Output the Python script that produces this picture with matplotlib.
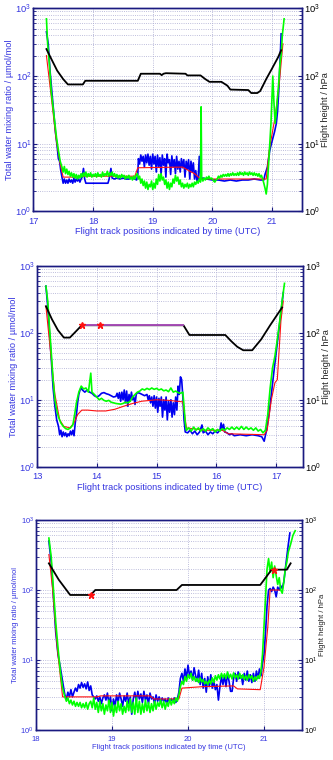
import numpy as np
import matplotlib
matplotlib.use("Agg")
from matplotlib import pyplot as plt
from matplotlib.ticker import LogLocator, NullFormatter

plt.rcParams['font.family'] = ['Liberation Sans', 'DejaVu Sans']
plt.rcParams['mathtext.default'] = 'regular'

# ---------------- panel 1 ----------------
p1_blue_t = [17.22, 17.25, 17.28, 17.31, 17.34, 17.37, 17.40, 17.42, 17.44, 17.46, 17.48, 17.50, 17.52, 17.54, 17.56, 17.58,
             17.60, 17.62, 17.64, 17.66, 17.68, 17.70, 17.72, 17.74, 17.76, 17.78, 17.80, 17.82, 17.84, 17.86, 17.88, 17.90,
             18.00, 18.10, 18.20, 18.25, 18.27, 18.30, 18.32, 18.36, 18.40, 18.45, 18.50, 18.55, 18.60, 18.65, 18.70, 18.73,
             18.75, 18.76, 18.78, 18.80, 18.82, 18.84, 18.86, 18.88, 18.90, 18.92, 18.94, 18.96, 18.98, 19.00, 19.02, 19.04,
             19.06, 19.08, 19.10, 19.12, 19.14, 19.16, 19.18, 19.20, 19.22, 19.24, 19.26, 19.28, 19.30, 19.32, 19.34, 19.36,
             19.38, 19.40, 19.42, 19.44, 19.46, 19.48, 19.50, 19.52, 19.54, 19.56, 19.58, 19.60, 19.62, 19.64, 19.66, 19.68,
             19.70, 19.72, 19.74, 19.76, 19.78, 19.80, 19.84, 19.90, 20.00, 20.10, 20.20, 20.30, 20.40, 20.50, 20.60, 20.70,
             20.80, 20.86, 20.88, 20.92, 20.96, 21.00, 21.04, 21.07, 21.09, 21.11, 21.13, 21.15]
p1_blue_v = [450, 300, 120, 60, 30, 15, 9, 6, 5.5, 4, 3.2, 2.6, 3.0, 2.6, 2.9, 2.6,
             3.0, 2.7, 2.9, 2.6, 3.1, 2.7, 3.0, 2.8, 3.0, 2.7, 3.0, 3.2, 4.3, 3.0, 2.6, 2.6,
             2.6, 2.6, 2.6, 2.6, 3.0, 4.3, 3.1, 3.0, 3.1, 3.0, 3.1, 3.0, 3.0, 3.1, 3.0, 2.9,
             3.5, 6, 5, 6.8, 5.5, 6.5, 4.5, 6.8, 5.2, 7, 4.8, 6.5, 4.2, 7, 5, 6.5,
             3.8, 6.8, 4.6, 6.2, 3.5, 6.8, 4.8, 6, 3.2, 7, 5.2, 5.8, 3.5, 6.6, 4.5, 5.8,
             3.6, 6.5, 4.2, 5.5, 3.8, 6, 4.4, 5.8, 3.2, 5.5, 4.2, 5.8, 3.0, 5.5, 3.8, 5.2,
             3.0, 4.0, 2.8, 3.0, 6.5, 3.0, 3.1, 3.0, 2.9, 2.9, 2.8, 2.9, 2.8, 2.9, 2.9, 3.0,
             2.9, 2.9, 3.5, 4.5, 8, 11, 15, 20, 30, 60, 150, 420]

p1_green_t = [17.22, 17.24, 17.27, 17.30, 17.33, 17.36, 17.39, 17.42, 17.45, 17.48, 17.50, 17.52, 17.54, 17.56, 17.58, 17.60,
              17.62, 17.64, 17.66, 17.68, 17.70, 17.72, 17.74, 17.76, 17.78, 17.80, 17.82, 17.84, 17.86, 17.88, 17.90, 17.92,
              17.94, 17.96, 17.98, 18.00, 18.02, 18.04, 18.06, 18.08, 18.10, 18.12, 18.14, 18.16, 18.18, 18.20, 18.22, 18.24,
              18.26, 18.28, 18.30, 18.32, 18.34, 18.36, 18.38, 18.40, 18.42, 18.44, 18.46, 18.48, 18.50, 18.52, 18.54, 18.56,
              18.58, 18.60, 18.62, 18.64, 18.66, 18.68, 18.70, 18.72, 18.74, 18.76, 18.78, 18.80, 18.82, 18.84, 18.86, 18.88,
              18.90, 18.92, 18.94, 18.96, 18.98, 19.00, 19.02, 19.04, 19.06, 19.08, 19.10, 19.12, 19.14, 19.16, 19.18, 19.20,
              19.22, 19.24, 19.26, 19.28, 19.30, 19.32, 19.34, 19.36, 19.38, 19.40, 19.42, 19.44, 19.46, 19.48, 19.50, 19.52,
              19.54, 19.56, 19.58, 19.60, 19.62, 19.64, 19.66, 19.68, 19.70, 19.72, 19.74, 19.76, 19.78, 19.80, 19.81, 19.82,
              19.84, 19.86, 19.88, 19.90, 19.92, 19.94, 19.96, 19.98, 20.00, 20.02, 20.04, 20.06, 20.08, 20.10, 20.12, 20.14,
              20.16, 20.18, 20.20, 20.22, 20.24, 20.26, 20.28, 20.30, 20.32, 20.34, 20.36, 20.38, 20.40, 20.42, 20.44, 20.46,
              20.48, 20.50, 20.52, 20.54, 20.56, 20.58, 20.60, 20.62, 20.64, 20.66, 20.68, 20.70, 20.72, 20.74, 20.76, 20.78,
              20.80, 20.82, 20.84, 20.86, 20.88, 20.90, 20.92, 20.94, 20.96, 20.98, 21.00, 21.01, 21.03, 21.05, 21.07, 21.09,
              21.11, 21.13, 21.15, 21.17, 21.20]
p1_green_v = [700, 300, 150, 60, 35, 20, 12, 8, 5.5, 4.5, 3.8, 4.6, 3.6, 4.2, 3.5, 3.9,
              3.3, 3.7, 3.2, 3.6, 3.1, 3.5, 3.0, 3.4, 3.1, 3.6, 3.2, 3.7, 3.3, 3.8, 3.2, 3.6,
              3.3, 3.7, 3.2, 3.5, 3.3, 3.6, 3.2, 3.7, 3.3, 3.5, 3.2, 3.8, 3.3, 3.6, 3.4, 3.9,
              3.3, 3.7, 3.4, 3.8, 3.3, 3.6, 3.2, 3.5, 3.1, 3.4, 3.1, 3.5, 3.2, 3.4, 3.0, 3.3,
              3.1, 3.4, 3.0, 3.2, 2.9, 3.3, 3.0, 3.4, 3.6, 3.0, 3.3, 2.6, 3.0, 2.4, 2.8, 2.2,
              2.7, 2.1, 2.5, 2.3, 2.8, 2.1, 2.6, 2.2, 3.0, 2.5, 3.5, 2.8, 3.6, 2.9, 3.2, 2.5,
              2.9, 2.2, 2.7, 2.1, 2.6, 2.3, 3.0, 2.6, 3.4, 2.8, 3.2, 2.5, 2.9, 2.3, 2.6, 2.2,
              2.5, 2.3, 2.6, 2.2, 2.5, 2.3, 2.6, 2.3, 2.7, 2.5, 2.8, 2.6, 3.0, 2.7, 35, 3.0,
              2.8, 3.1, 2.9, 3.2, 3.0, 3.3, 3.0, 3.1, 3.0, 2.8, 2.7, 2.9, 3.0, 3.3, 3.1, 3.4,
              3.2, 3.5, 3.3, 3.5, 3.3, 3.6, 3.3, 3.6, 3.4, 3.7, 3.4, 3.6, 3.4, 3.7, 3.4, 3.8,
              3.5, 3.7, 3.4, 3.8, 3.5, 3.7, 3.4, 3.8, 3.5, 3.7, 3.4, 3.7, 3.4, 3.6, 3.3, 3.6,
              3.2, 3.4, 3.0, 2.6, 2.2, 1.8, 2.5, 5, 10, 20, 60, 100, 40, 20, 30, 50,
              80, 150, 200, 400, 700]

p1_red_t = [17.22, 17.30, 17.38, 17.45, 17.50, 17.70, 17.75, 18.70, 18.75, 19.50, 19.60, 19.70, 19.80, 20.90, 20.95, 21.05, 21.12, 21.18]
p1_red_v = [200, 50, 12, 5, 3.2, 3.2, 3.3, 3.3, 4.4, 4.5, 4.0, 3.6, 3.0, 3.0, 8, 25, 80, 300]

p1_black_t = [17.22, 17.30, 17.40, 17.50, 17.58, 17.83, 17.87, 18.75, 18.80, 19.12, 19.15, 19.18, 19.22, 19.55, 19.58, 19.80,
              19.88, 19.95, 20.15, 20.25, 20.30, 20.60, 20.65, 20.75, 20.80, 20.90, 21.00, 21.10, 21.15]
p1_black_v = [250, 180, 120, 90, 75, 75, 85, 85, 108, 108, 103, 108, 110, 108, 102, 102,
              90, 82, 82, 72, 63, 62, 56, 56, 60, 90, 130, 190, 240]

# ---------------- panel 2 ----------------
p2_blue_t = [13.15, 13.18, 13.21, 13.24, 13.27, 13.30, 13.33, 13.36, 13.38, 13.40, 13.42, 13.44, 13.46, 13.48, 13.50, 13.52,
             13.54, 13.56, 13.58, 13.60, 13.62, 13.64, 13.66, 13.68, 13.70, 13.72, 13.74, 13.76, 13.80, 13.84, 13.88, 13.92,
             13.96, 14.00, 14.04, 14.08, 14.12, 14.16, 14.20, 14.24, 14.28, 14.32, 14.34, 14.36, 14.38, 14.40, 14.42, 14.44,
             14.46, 14.48, 14.50, 14.52, 14.54, 14.56, 14.58, 14.60, 14.62, 14.64, 14.66, 14.68, 14.72, 14.76, 14.80, 14.84,
             14.86, 14.88, 14.90, 14.92, 14.94, 14.96, 14.98, 15.00, 15.02, 15.04, 15.06, 15.08, 15.10, 15.12, 15.14, 15.16,
             15.18, 15.20, 15.22, 15.24, 15.26, 15.28, 15.30, 15.32, 15.34, 15.36, 15.38, 15.40, 15.42, 15.44, 15.46, 15.48,
             15.52, 15.56, 15.60, 15.64, 15.68, 15.72, 15.76, 15.78, 15.82, 15.86, 15.90, 15.94, 15.98, 16.02, 16.06, 16.08,
             16.10, 16.12, 16.14, 16.18, 16.22, 16.26, 16.30, 16.40, 16.50, 16.60, 16.70, 16.76, 16.80, 16.84, 16.88, 16.92,
             16.96, 17.00, 17.04, 17.08, 17.12]
p2_blue_v = [500, 250, 100, 40, 15, 8, 5, 4, 3.0, 3.5, 2.8, 3.3, 2.9, 3.2, 2.8, 3.1,
             2.9, 3.4, 3.0, 3.5, 2.9, 4.5, 6, 9, 12, 14, 15, 14, 13, 14, 13, 12.5,
             11.5, 11, 11.5, 12.5, 12.8, 12.3, 12, 11.5, 11, 11.2, 12.5, 10.5, 12.8, 9.5, 13, 10,
             14, 9, 13.5, 8, 12, 9.5, 13, 10, 11, 8.5, 12, 12.8, 12.5, 12, 11.5, 12,
             10, 11.5, 9, 11, 8, 11.5, 7.5, 11, 6.5, 10.5, 8, 11, 5.5, 10, 7, 11,
             5, 9.5, 6.5, 10, 5.5, 9, 6, 11, 7, 16, 12, 22, 20, 11, 5, 3.3,
             3.2, 3.5, 3.1, 3.4, 3.0, 3.3, 4.2, 3.2, 3.4, 3.0, 3.3, 3.1, 3.4, 3.2, 3.5, 4.5,
             3.5, 4.3, 3.3, 3.2, 3.0, 3.1, 2.9, 3.0, 2.9, 3.0, 2.9, 2.8, 2.4, 3.5, 6, 12,
             25, 50, 100, 200, 400]

p2_green_t = [13.15, 13.18, 13.21, 13.24, 13.27, 13.30, 13.33, 13.36, 13.40, 13.44, 13.48, 13.52, 13.56, 13.60, 13.63, 13.66,
              13.70, 13.74, 13.78, 13.82, 13.86, 13.88, 13.90, 13.92, 13.96, 14.00, 14.04, 14.08, 14.12, 14.16, 14.20, 14.24,
              14.28, 14.32, 14.36, 14.40, 14.44, 14.48, 14.52, 14.56, 14.60, 14.64, 14.68, 14.72, 14.76, 14.80, 14.84, 14.88,
              14.92, 14.96, 15.00, 15.04, 15.08, 15.12, 15.16, 15.20, 15.24, 15.28, 15.32, 15.36, 15.40, 15.44, 15.46, 15.48,
              15.50, 15.54, 15.58, 15.62, 15.66, 15.70, 15.74, 15.78, 15.82, 15.86, 15.90, 15.94, 15.98, 16.02, 16.06, 16.10,
              16.14, 16.18, 16.22, 16.26, 16.30, 16.34, 16.38, 16.42, 16.46, 16.50, 16.54, 16.58, 16.62, 16.66, 16.70, 16.74,
              16.78, 16.82, 16.86, 16.90, 16.94, 16.98, 17.02, 17.06, 17.10, 17.14]
p2_green_v = [500, 300, 120, 50, 20, 10, 7, 5.5, 4.5, 4.0, 3.7, 3.6, 3.8, 4.2, 6, 9,
              13, 16, 14.5, 15, 13, 18, 25, 13, 12, 11, 10, 10.5, 9.8, 9.5, 9.8, 9.2,
              9.0, 8.8, 8.7, 8.6, 8.8, 9.2, 9.0, 9.5, 11, 12, 13, 13.5, 14.5, 14, 14.8, 14.2,
              15, 14.3, 14.8, 14, 14.5, 13.6, 14, 13.2, 15, 13, 13.5, 12.8, 12.5, 13, 8, 4.5,
              3.5, 3.8, 3.4, 3.9, 3.5, 3.8, 3.4, 3.7, 3.4, 3.8, 3.5, 3.7, 3.3, 3.6, 3.4, 3.7,
              3.5, 3.8, 3.6, 3.9, 3.6, 3.9, 3.6, 4.0, 3.6, 3.9, 3.6, 3.8, 3.5, 3.8, 3.4, 3.6,
              3.2, 3.5, 6, 15, 30, 45, 80, 150, 300, 550]

p2_red_t = [13.15, 13.22, 13.30, 13.38, 13.45, 13.55, 13.62, 13.68, 13.75, 13.85, 14.00, 14.15, 14.30, 14.45, 14.60, 14.75,
            15.00, 15.20, 15.44, 15.50, 15.80, 16.10, 16.20, 16.80, 16.85, 16.92, 16.98, 17.02, 17.08, 17.12]
p2_red_v = [250, 60, 12, 5, 4.0, 3.8, 4.5, 6, 7, 7.0, 6.8, 6.8, 7.2, 8, 8.8, 9.5,
            10, 9.8, 9.3, 3.8, 3.5, 3.5, 3.1, 3.0, 3.5, 10, 18, 20, 150, 300]

p2_black_t = [13.15, 13.25, 13.35, 13.45, 13.55, 13.65, 13.75, 15.45, 15.55, 16.15, 16.25, 16.35, 16.45, 16.60, 16.75, 16.90, 17.10]
p2_black_v = [250, 160, 110, 85, 85, 105, 130, 130, 93, 93, 75, 62, 55, 55, 80, 130, 240]
p2_mag_t = [13.75, 15.45]
p2_mag_v = [130, 130]
p2_star_t = [13.75, 14.05]
p2_star_v = [130, 130]

# ---------------- panel 3 ----------------
p3_blue_t = [18.17, 18.20, 18.23, 18.26, 18.29, 18.32, 18.35, 18.38, 18.40, 18.42, 18.44, 18.46, 18.48, 18.50, 18.52, 18.54,
             18.56, 18.58, 18.60, 18.62, 18.64, 18.66, 18.68, 18.70, 18.72, 18.74, 18.76, 18.78, 18.80, 18.82, 18.84, 18.86,
             18.88, 18.90, 18.92, 18.94, 18.96, 18.98, 19.00, 19.02, 19.04, 19.06, 19.08, 19.10, 19.12, 19.14, 19.16, 19.18,
             19.20, 19.22, 19.24, 19.26, 19.28, 19.30, 19.32, 19.34, 19.36, 19.38, 19.40, 19.42, 19.44, 19.46, 19.48, 19.50,
             19.52, 19.54, 19.56, 19.58, 19.60, 19.62, 19.64, 19.66, 19.68, 19.70, 19.72, 19.74, 19.76, 19.78, 19.80, 19.82,
             19.84, 19.86, 19.88, 19.90, 19.92, 19.94, 19.96, 19.98, 20.00, 20.02, 20.04, 20.06, 20.08, 20.10, 20.12, 20.14,
             20.16, 20.18, 20.20, 20.22, 20.24, 20.26, 20.28, 20.30, 20.32, 20.34, 20.36, 20.38, 20.40, 20.42, 20.44, 20.46,
             20.48, 20.50, 20.52, 20.54, 20.56, 20.58, 20.60, 20.62, 20.64, 20.66, 20.68, 20.70, 20.72, 20.74, 20.76, 20.78,
             20.80, 20.82, 20.84, 20.86, 20.88, 20.90, 20.92, 20.94, 20.96, 20.98, 21.00, 21.02, 21.04, 21.06, 21.08, 21.10,
             21.12, 21.14, 21.16, 21.18, 21.20, 21.22, 21.24, 21.26, 21.28, 21.30, 21.32, 21.34]
p3_blue_v = [500, 250, 80, 25, 12, 8, 5, 3.2, 2.8, 3.5, 3.0, 3.8, 3.0, 3.5, 4.0, 3.6,
             4.5, 4.0, 4.8, 4.1, 4.6, 3.9, 4.9, 3.7, 4.3, 3.2, 3.0, 2.8, 3.1, 2.6, 3.0, 2.4,
             2.9, 3.2, 2.7, 3.4, 2.4, 3.0, 1.9, 2.8, 2.2, 3.2, 2.5, 3.4, 2.8, 2.2, 3.1, 2.6,
             3.4, 2.4, 3.0, 1.7, 2.8, 3.5, 2.6, 3.6, 2.8, 3.3, 2.5, 3.6, 2.7, 3.2, 2.4, 3.4,
             2.8, 3.0, 2.4, 3.2, 2.6, 3.0, 2.5, 2.9, 2.6, 2.8, 2.4, 2.9, 2.5, 2.8, 2.6, 2.9,
             2.5, 2.8, 3.5, 5.5, 6.5, 5.0, 7.5, 5.5, 8.5, 6.0, 7.0, 5.2, 7.8, 6.0, 5.0, 7.2,
             4.5, 6.5, 4.0, 5.5, 3.5, 5.8, 4.2, 6.2, 4.0, 5.0, 3.8, 4.5, 2.7, 4.2, 5.8, 4.5,
             6.0, 4.2, 6.5, 5.0, 3.6, 3.6, 5.5, 6.5, 5.0, 6.8, 5.5, 6.0, 4.5, 6.5, 5.2, 7.0,
             5.0, 6.2, 4.8, 6.5, 5.0, 7.0, 5.5, 7.5, 6.0, 9, 12, 25, 60, 100, 105, 95,
             110, 100, 80, 110, 100, 115, 105, 130, 200, 300, 450, 650]

p3_green_t = [18.17, 18.20, 18.23, 18.26, 18.29, 18.32, 18.35, 18.38, 18.40, 18.42, 18.44, 18.46, 18.48, 18.50, 18.52, 18.54,
              18.56, 18.58, 18.60, 18.62, 18.64, 18.66, 18.68, 18.70, 18.72, 18.74, 18.76, 18.78, 18.80, 18.82, 18.84, 18.86,
              18.88, 18.90, 18.92, 18.94, 18.96, 18.98, 19.00, 19.02, 19.04, 19.06, 19.08, 19.10, 19.12, 19.14, 19.16, 19.18,
              19.20, 19.22, 19.24, 19.26, 19.28, 19.30, 19.32, 19.34, 19.36, 19.38, 19.40, 19.42, 19.44, 19.46, 19.48, 19.50,
              19.52, 19.54, 19.56, 19.58, 19.60, 19.62, 19.64, 19.66, 19.68, 19.70, 19.72, 19.74, 19.76, 19.78, 19.80, 19.82,
              19.84, 19.86, 19.88, 19.90, 19.92, 19.94, 19.96, 19.98, 20.00, 20.02, 20.04, 20.06, 20.08, 20.10, 20.12, 20.14,
              20.16, 20.18, 20.20, 20.22, 20.24, 20.26, 20.28, 20.30, 20.32, 20.34, 20.36, 20.38, 20.40, 20.42, 20.44, 20.46,
              20.48, 20.50, 20.52, 20.54, 20.56, 20.58, 20.60, 20.62, 20.64, 20.66, 20.68, 20.70, 20.72, 20.74, 20.76, 20.78,
              20.80, 20.82, 20.84, 20.86, 20.88, 20.90, 20.92, 20.94, 20.96, 20.98, 21.00, 21.02, 21.04, 21.06, 21.08, 21.10,
              21.12, 21.14, 21.16, 21.18, 21.20, 21.22, 21.24, 21.26, 21.28, 21.30, 21.32, 21.35, 21.38, 21.41]
p3_green_v = [550, 300, 100, 35, 15, 7, 4, 3.0, 2.6, 2.9, 2.4, 2.7, 2.3, 2.6, 2.2, 2.5,
              2.2, 2.5, 2.1, 2.4, 2.1, 2.5, 2.0, 2.4, 2.6, 2.1, 2.9, 2.0, 2.5, 1.8, 2.6, 1.9,
              2.4, 1.7, 2.3, 1.9, 2.7, 1.8, 2.5, 1.6, 2.3, 1.8, 2.6, 1.9, 2.4, 1.7, 2.2, 1.8,
              2.6, 1.9, 2.8, 1.8, 2.5, 1.7, 2.9, 1.8, 2.6, 1.7, 2.4, 1.8, 2.7, 1.9, 2.5, 1.8,
              2.4, 1.9, 2.6, 2.0, 2.5, 2.2, 2.7, 2.1, 2.6, 2.0, 2.5, 2.2, 2.8, 2.3, 2.7, 2.4,
              2.9, 2.6, 3.2, 4.2, 5.0, 4.5, 5.8, 5.0, 6.2, 5.5, 6.5, 5.2, 5.8, 5.0, 5.5, 4.8,
              5.6, 4.9, 5.3, 4.6, 5.0, 4.5, 5.2, 4.6, 5.6, 4.8, 6.0, 5.2, 6.2, 5.4, 6.5, 5.6,
              6.4, 5.5, 6.8, 5.6, 6.3, 5.4, 6.6, 5.6, 6.2, 5.4, 6.5, 5.5, 6.2, 5.3, 6.0, 5.2,
              6.2, 5.5, 6.0, 5.0, 5.8, 5.2, 6.0, 5.5, 7.0, 12, 30, 80, 200, 280, 180, 250,
              150, 220, 160, 120, 150, 100, 90, 130, 200, 250, 350, 450, 600, 700]

p3_red_t = [18.17, 18.22, 18.28, 18.35, 18.80, 18.85, 19.50, 19.55, 19.88, 19.92, 20.20, 20.60, 20.65, 20.95, 21.00, 21.05, 21.08, 21.20]
p3_red_v = [320, 100, 15, 3.0, 3.0, 3.1, 3.1, 2.8, 2.8, 4.0, 4.2, 4.3, 3.9, 3.8, 8, 30, 100, 100]

p3_black_t = [18.17, 18.30, 18.45, 18.72, 18.78, 19.85, 19.92, 20.95, 21.10, 21.30, 21.35]
p3_black_v = [240, 140, 85, 85, 100, 100, 118, 118, 195, 195, 240]
p3_star_t = [18.72, 21.13]
p3_star_v = [86, 195]

BLUE = "#0000f0"
GREEN = "#00ff00"
RED = "#ff1010"
SPINE = "#1a1a80"
TICKBLUE = "#3535e0"


def draw_panel(rect, xlim, xticks, blue, green, red, black, fs, mag=None, stars=None):
    ax = fig.add_axes(rect)
    ax.set_yscale("log")
    ax.plot(blue[0], blue[1], color=BLUE, lw=1.2)
    ax.plot(red[0], red[1], color=RED, lw=0.8)
    ax.plot(green[0], green[1], color=GREEN, lw=1.2)
    ax.set_xlim(xlim)
    ax.set_ylim(1, 1000)
    ax.set_xticks(xticks)
    ax.yaxis.set_major_locator(LogLocator(base=10, numticks=5))
    ax.yaxis.set_minor_locator(LogLocator(base=10, subs=np.arange(2, 10), numticks=10))
    ax.yaxis.set_minor_formatter(NullFormatter())
    ax.grid(True, which="both", axis="y", color="#a8a8d0", ls=":", lw=0.6)
    ax.grid(True, which="major", axis="x", color="#a8a8d0", ls=":", lw=0.6)
    ax.tick_params(which="both", direction="in", colors=SPINE, labelcolor=TICKBLUE, labelsize=fs, length=2, pad=1.5)
    ax.tick_params(which="major", length=3)
    ax.tick_params(axis="x", pad=4)
    for s in ax.spines.values():
        s.set_color(SPINE)
        s.set_linewidth(1.0)
    ax.set_xlabel("Flight track positions indicated by time (UTC)", color=TICKBLUE, fontsize=fs, labelpad=1)
    ax.set_ylabel("Total water mixing ratio / µmol/mol", color=TICKBLUE, fontsize=fs, labelpad=1)

    ax2 = ax.twinx()
    ax2.set_yscale("log")
    ax2.plot(black[0], black[1], color="black", lw=1.3)
    if mag is not None:
        ax2.plot(mag[0], mag[1], color="#b050c0", lw=1.3)
    if stars is not None:
        ax2.plot(stars[0], stars[1], ls="none", marker="*", color=RED, ms=4.5)
    ax2.set_ylim(1, 1000)
    ax2.yaxis.set_major_locator(LogLocator(base=10, numticks=5))
    ax2.yaxis.set_minor_locator(LogLocator(base=10, subs=np.arange(2, 10), numticks=10))
    ax2.yaxis.set_minor_formatter(NullFormatter())
    ax2.tick_params(which="both", direction="in", colors=SPINE, labelcolor="black", labelsize=fs, length=2, pad=1.5)
    ax2.tick_params(which="major", length=3)
    for s in ax2.spines.values():
        s.set_color(SPINE)
        s.set_linewidth(1.0)
    ax2.set_ylabel("Flight height / hPa", color="#222222", fontsize=fs, labelpad=1)
    return ax, ax2


fig = plt.figure(figsize=(3.33, 7.6), dpi=100)

draw_panel([0.100, 0.722, 0.807, 0.267], (17, 21.5), [17, 18, 19, 20, 21],
           (p1_blue_t, p1_blue_v), (p1_green_t, p1_green_v), (p1_red_t, p1_red_v), (p1_black_t, p1_black_v), 6.7)

draw_panel([0.111, 0.386, 0.799, 0.264], (13, 17.45), [13, 14, 15, 16, 17],
           (p2_blue_t, p2_blue_v), (p2_green_t, p2_green_v), (p2_red_t, p2_red_v), (p2_black_t, p2_black_v), 6.7,
           mag=(p2_mag_t, p2_mag_v), stars=(p2_star_t, p2_star_v))

draw_panel([0.108, 0.039, 0.799, 0.277], (18, 21.5), [18, 19, 20, 21],
           (p3_blue_t, p3_blue_v), (p3_green_t, p3_green_v), (p3_red_t, p3_red_v), (p3_black_t, p3_black_v), 5.5,
           stars=(p3_star_t, p3_star_v))

fig.savefig("out.png", dpi=100)
